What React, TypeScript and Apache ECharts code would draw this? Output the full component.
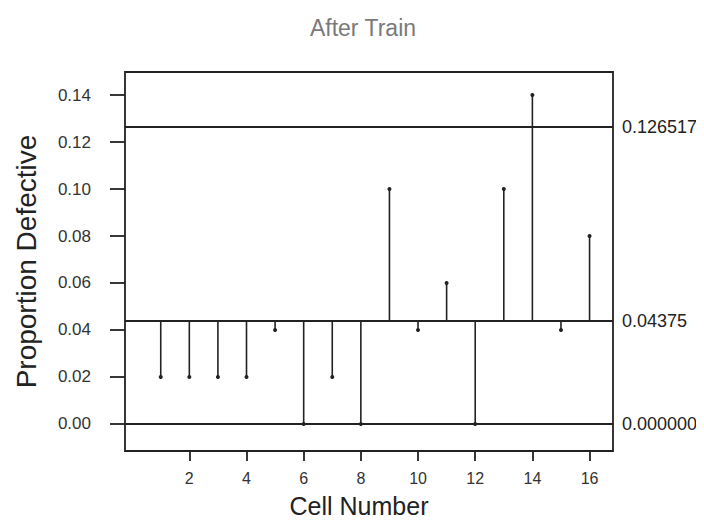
import React, { useEffect, useRef } from "react";
import * as echarts from "echarts";

const cells = [1, 2, 3, 4, 5, 6, 7, 8, 9, 10, 11, 12, 13, 14, 15, 16];
const proportions = [0.02, 0.02, 0.02, 0.02, 0.04, 0.0, 0.02, 0.0, 0.1, 0.04, 0.06, 0.0, 0.1, 0.14, 0.04, 0.08];
const centerLine = 0.04375;
const limitValues = [0.126517, 0.04375, 0];
const limitLabels = ["0.126517", "0.04375", "0.000000"];
const yTicks = [0, 0.02, 0.04, 0.06, 0.08, 0.1, 0.12, 0.14];
const xTicks = [2, 4, 6, 8, 10, 12, 14, 16];

const FONT = "Liberation Sans, Arial, sans-serif";

export default function App() {
  const ref = useRef<HTMLDivElement>(null);
  useEffect(() => {
    if (!ref.current) return;
    const chart = echarts.init(ref.current, null, { renderer: "svg" });
    const data = cells.map((c, i) => [c, proportions[i]]);
    chart.setOption({
      animation: false,
      backgroundColor: "#fff",
      title: {
        text: "After Train",
        left: 358,
        top: 11,
        textAlign: "center",
        textStyle: { fontFamily: FONT, fontSize: 23, fontWeight: "normal", color: "#7a7a7a" },
      },
      grid: { left: 125, right: 91, top: 72, bottom: 74, show: true, borderColor: "#222", borderWidth: 1.8, backgroundColor: "transparent" },
      xAxis: {
        type: "value",
        min: -0.25,
        max: 16.82,
        name: "Cell Number",
        nameLocation: "middle",
        nameGap: 42,
        nameTextStyle: { fontFamily: FONT, fontSize: 25, color: "#222", padding: [0, 20, 0, 0] },
        axisLine: { show: false, onZero: false },
        splitLine: { show: false },
        axisTick: { show: true, customValues: xTicks, length: 10, lineStyle: { color: "#222", width: 1.8 } },
        axisLabel: { customValues: xTicks, fontFamily: FONT, fontSize: 16, color: "#333", margin: 19 },
      },
      yAxis: {
        type: "value",
        min: -0.0115,
        max: 0.1498,
        name: "Proportion Defective",
        nameLocation: "middle",
        nameGap: 85,
        nameTextStyle: { fontFamily: FONT, fontSize: 28, color: "#222" },
        axisLine: { show: false, onZero: false },
        splitLine: { show: false },
        axisTick: { show: true, customValues: yTicks, length: 15, lineStyle: { color: "#222", width: 1.8 } },
        axisLabel: {
          customValues: yTicks,
          fontFamily: FONT,
          fontSize: 17,
          color: "#333",
          margin: 34,
          formatter: (v: number) => v.toFixed(2),
        },
      },
      series: [
        {
          type: "custom",
          data,
          renderItem: (params: any, api: any) => {
            const x = api.value(0);
            const y = api.value(1);
            const p0 = api.coord([x, centerLine]);
            const p1 = api.coord([x, y]);
            return {
              type: "group",
              children: [
                {
                  type: "line",
                  shape: { x1: p0[0], y1: p0[1], x2: p1[0], y2: p1[1] },
                  style: { stroke: "#222", lineWidth: 1.6 },
                },
                {
                  type: "circle",
                  shape: { cx: p1[0], cy: p1[1], r: 2 },
                  style: { fill: "#222" },
                },
              ],
            };
          },
          markLine: {
            silent: true,
            symbol: "none",
            precision: 6,
            lineStyle: { color: "#222", width: 1.8, type: "solid" },
            label: {
              show: true,
              position: "end",
              distance: 9,
              fontFamily: FONT,
              fontSize: 18,
              color: "#222",
              formatter: (p: any) => p.name,
            },
            data: limitValues.map((v, i) => ({ yAxis: v, name: limitLabels[i] })),
          },
        },
      ],
    });
    return () => chart.dispose();
  }, []);
  return <div ref={ref} style={{ width: 704, height: 525, marginLeft: -8, marginTop: -8 }} />;
}
